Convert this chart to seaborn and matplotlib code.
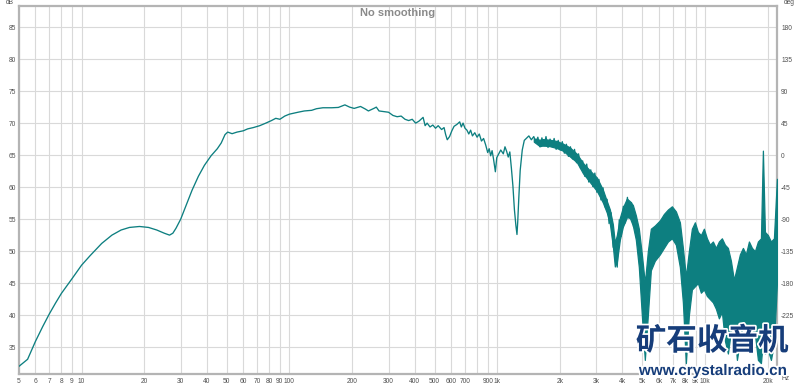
import numpy as np
import pandas as pd
import matplotlib
matplotlib.use("Agg")
import matplotlib.pyplot as plt
import matplotlib.patheffects as pe
from matplotlib.ticker import FixedLocator, FixedFormatter
import seaborn as sns

# ---------------- data ----------------
freq_hz = [5.0, 5.5, 6.0, 6.5, 7.0, 7.5, 8.0, 9.0, 10.0, 11.0, 12.5, 14.0, 15.5, 17.0,
           19.0, 21.0, 23.0, 25.0, 26.5, 27.5, 28.5, 30.0, 32.0, 34.0, 36.5, 39.0, 42.0,
           45.0, 47.0, 49.0, 50.5, 53.0, 56.0, 60.0, 63.0, 67.0, 72.0, 77.0, 82.0, 86.0,
           90.0, 95.0, 100, 110, 118, 128, 135, 145, 160, 172, 185, 195, 205, 220, 232,
           240, 255, 262, 270, 285, 300, 315, 330, 345, 360, 375, 390, 405, 420, 440,
           450, 460, 475, 490, 505, 520, 540, 555, 565, 575, 590, 605, 620, 640, 660,
           672, 685, 700, 715, 730, 745, 760, 780, 800, 820, 840, 860, 880, 900, 915,
           930, 945, 960, 980, 995, 1010, 1040, 1070, 1090, 1110, 1130, 1150, 1170,
           1190, 1210, 1230, 1245, 1255, 1270, 1290, 1320, 1350, 1380, 1420, 1460,
           1500, 1534, 1569, 1605, 1641, 1679, 1717, 1756, 1796, 1837, 1879, 1922, 1966,
           2011, 2057, 2104, 2152, 2201, 2251, 2302, 2355, 2408, 2463, 2519, 2577, 2636,
           2696, 2757, 2820, 2884, 2950, 3017, 3086, 3157, 3229, 3302, 3378, 3455, 3533,
           3614, 3696, 3781, 3867, 3955, 4045, 4138, 4232, 4329, 4427, 4528, 4632]
spl_db = [32.0, 33.1, 35.9, 38.2, 40.2, 41.9, 43.4, 45.7, 47.8, 49.3, 51.2, 52.5, 53.3, 53.7,
          53.85, 53.7, 53.3, 52.8, 52.5, 52.8, 53.6, 55.0, 57.3, 59.5, 61.7, 63.4, 64.9,
          66.0, 66.9, 68.2, 68.6, 68.35, 68.6, 68.8, 69.1, 69.3, 69.6, 70.0, 70.4, 70.75,
          70.6, 71.1, 71.4, 71.7, 71.9, 72.0, 72.25, 72.4, 72.4, 72.45, 72.85, 72.5, 72.3,
          72.6, 72.2, 71.9, 72.3, 72.5, 71.9, 71.8, 71.7, 71.2, 71.0, 71.1, 70.6, 70.4,
          70.6, 70.0, 70.3, 70.9, 69.6, 70.0, 69.4, 69.7, 69.2, 69.6, 69.0, 69.3, 68.2,
          67.4, 67.9, 68.8, 69.5, 69.8, 70.2, 69.4, 70.0, 69.2, 68.9, 68.3, 68.9, 68.0,
          68.5, 67.8, 68.3, 67.2, 67.6, 66.6, 65.4, 66.0, 64.9, 65.7, 64.4, 62.4, 64.6,
          65.0, 65.8, 65.2, 66.3, 65.6, 64.7, 65.5, 63.0, 60.2, 56.5, 54.0, 52.6, 54.5,
          58.2, 62.6, 65.8, 67.3, 67.6, 68.0, 67.4,
          67.9, 67.0, 67.8, 66.3, 67.7, 66.4, 67.9, 66.2, 67.5, 66.3, 67.6, 65.9, 67.3,
          65.8, 67.1, 65.3, 66.7, 64.8, 66.3, 64.4, 65.9, 63.8, 65.2, 62.9, 64.1, 61.7,
          63.6, 60.8, 62.7, 60.1, 62.2, 59.2, 61.2, 58.0, 59.9, 56.9, 58.1, 54.3, 56.0,
          50.6, 51.3, 47.5, 54.9, 52.3, 57.0, 54.4, 58.4, 55.2, 57.6, 53.8, 55.5]

# high-frequency noise band: upper / lower envelope
band_freq_hz = [1500, 1603, 1660, 1791, 1936, 2069, 2236, 2416, 2583, 2791, 3017, 3224,
                3370, 3484, 3601, 3682, 3765, 3892, 4023, 4206, 4348,
                4495, 4646, 4803, 4966, 5133, 5308, 5487, 5736, 6065, 6339, 6628, 6928,
                7241, 7569, 7825, 8089, 8363, 8645, 8938, 9240, 9553, 9875, 10210, 10555,
                10910, 11280, 11660, 12055, 12465, 12885, 13320, 13770, 14240, 14720,
                15220, 15730, 16265, 16815, 17385, 17970, 18580, 18990, 19420, 20075,
                20755, 21455, 22185]
band_high_db = [67.6, 67.4, 67.5, 67.4, 67.2, 66.8, 66.2, 65.2, 63.8, 62.6, 61.5, 59.6,
                57.8, 56.5, 54.2, 51.3, 52.5, 55.2, 56.8, 58.2, 57.8,
                57.2, 55.6, 53.5, 49.5, 45.0, 50.0, 53.5, 54.0, 54.8, 55.8, 56.5, 57.0,
                56.2, 54.5, 50.5, 46.0, 50.0, 53.5, 54.5, 53.0, 52.5, 53.5, 52.0, 51.0,
                51.5, 50.5, 51.5, 52.0, 51.0, 50.5, 48.5, 45.5, 47.5, 49.5, 50.5, 49.5,
                51.5, 50.5, 50.0, 51.5, 52.0, 65.7, 53.0, 52.5, 51.5, 52.0, 61.3]
band_low_db = [67.1, 66.4, 66.5, 66.4, 66.1, 65.7, 64.8, 63.9, 62.2, 60.8, 59.4, 57.6,
               56.0, 54.3, 50.8, 47.6, 48.3, 51.8, 53.8, 55.3, 55.2,
               54.0, 51.8, 47.5, 40.0, 33.0, 40.0, 47.0, 48.5, 49.5, 50.5, 51.5, 52.0,
               51.0, 47.5, 42.0, 32.5, 40.0, 44.0, 44.5, 45.0, 43.5, 44.0, 43.0, 42.5,
               42.0, 41.0, 39.5, 40.5, 36.0, 34.0, 37.5, 38.5, 33.0, 36.0, 38.5, 37.5,
               36.5, 38.0, 37.0, 33.0, 32.5, 36.0, 34.0, 34.5, 33.0, 35.5, 45.0]

x_grid_hz = [5, 6, 7, 8, 9, 10, 20, 30, 40, 50, 60, 70, 80, 90, 100, 200, 300, 400, 500,
             600, 700, 800, 900, 1000, 2000, 3000, 4000, 5000, 6000, 7000, 8000, 9000,
             10000, 20000]
x_tick_labels = ["5", "6", "7", "8", "9", "10", "20", "30", "40", "50", "60", "70", "80",
                 "90", "100", "200", "300", "400", "500", "600", "700", "", "900", "1k",
                 "2k", "3k", "4k", "5k", "6k", "7k", "8k", "9k", "10k", "20k"]
db_ticks = [35, 40, 45, 50, 55, 60, 65, 70, 75, 80, 85]
deg_ticks = [180, 135, 90, 45, 0, -45, -90, -135, -180, -225]

# ---------------- styling ----------------
sns.set_style("white")
plt.rcParams["font.family"] = ["Liberation Sans", "DejaVu Sans"]

TEAL = "#0d7f80"
GRID = "#d9d9d9"
FRAME = "#b4b4b4"
TXT = "#505050"

fig = plt.figure(figsize=(8.0, 3.84), dpi=100)
ax = fig.add_axes([19 / 800, 10 / 384, 758 / 800, 368 / 384])

df = pd.DataFrame({"freq": freq_hz, "spl": spl_db})
sns.lineplot(data=df, x="freq", y="spl", ax=ax, color=TEAL, lw=0.95, sort=False,
             estimator=None, zorder=3)
ax.fill_between(band_freq_hz, band_low_db, band_high_db, color=TEAL, lw=0.9,
                edgecolor=TEAL, zorder=3)

ax.set_xscale("log")
ax.set_xlim(5, 22200)
ax.set_ylim(30.8, 88.3)
ax.xaxis.set_major_locator(FixedLocator(x_grid_hz))
ax.xaxis.set_major_formatter(FixedFormatter(x_tick_labels))
ax.xaxis.set_minor_locator(FixedLocator([]))
ax.set_yticks(db_ticks)
ax.set_yticklabels([str(v) for v in db_ticks])
ax.grid(True, which="major", color=GRID, lw=0.8)
ax.set_axisbelow(True)
ax.tick_params(axis="both", length=0, labelsize=4.8, colors=TXT, pad=2)
ax.tick_params(axis="x", pad=3)
ax.set_xlabel("")
ax.set_ylabel("")
for s in ax.spines.values():
    s.set_color(FRAME)
    s.set_linewidth(1.6)

# right phase axis
ax2 = ax.twinx()
ax2.set_ylim(180 + (30.8 - 85) * 9, 180 + (88.3 - 85) * 9)
ax2.set_yticks(deg_ticks)
ax2.set_yticklabels([str(v) for v in deg_ticks])
ax2.tick_params(axis="y", length=0, labelsize=4.8, colors=TXT, pad=3)
for s in ax2.spines.values():
    s.set_visible(False)

ax.text(0.5, 0.995, "No smoothing", transform=ax.transAxes, ha="center", va="top",
        fontsize=8, fontweight="bold", color="#8a8a8a", zorder=5)
fig.text(10 / 800, 1 - 3 / 384, "dB", ha="center", va="center", fontsize=4.8, color=TXT)
fig.text(789 / 800, 1 - 3 / 384, "deg", ha="center", va="center", fontsize=4.8, color=TXT)
fig.text(785 / 800, 1 - 379 / 384, "Hz", ha="center", va="center", fontsize=4.8, color=TXT)

# watermark
wm = [pe.withStroke(linewidth=2.5, foreground="white")]
fig.text(712 / 800, 1 - 341 / 384, "矿石收音机", ha="center", va="center", fontsize=22,
         fontweight="heavy", color="#163d7a", family=["Noto Sans CJK SC", "DejaVu Sans"],
         path_effects=wm, zorder=10)
fig.text(713 / 800, 1 - 371 / 384, "www.crystalradio.cn", ha="center", va="center",
         fontsize=11.0, fontweight="bold", color="#163d7a",
         family=["Liberation Sans", "DejaVu Sans"], path_effects=wm, zorder=10)

fig.savefig("out.png", dpi=100)
